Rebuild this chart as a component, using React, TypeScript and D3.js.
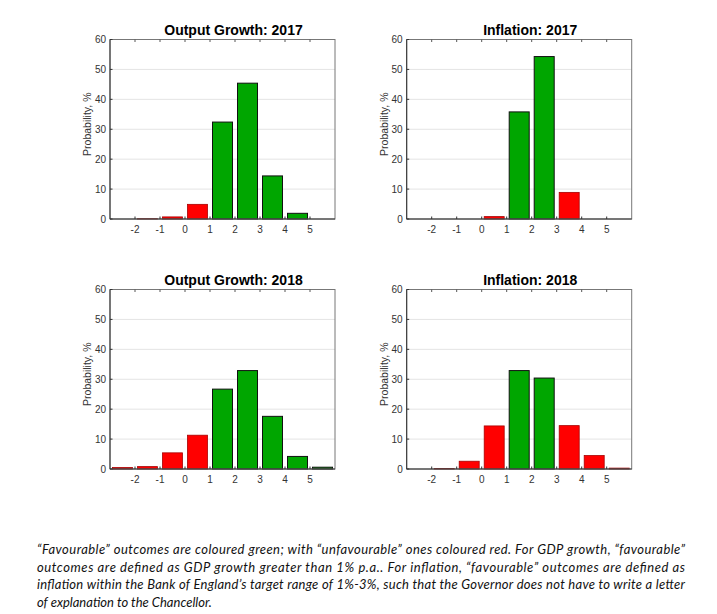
import React from "react";
import * as d3 from "d3";

const binStarts = [-3, -2, -1, 0, 1, 2, 3, 4, 5];
const xTicks = [-2, -1, 0, 1, 2, 3, 4, 5];
const yTicks = [0, 10, 20, 30, 40, 50, 60];
const gridTicks = [10, 20, 30, 40, 50];

const outputGrowth2017 = [0, 0.1, 0.7, 4.9, 32.4, 45.4, 14.4, 1.9, 0];
const inflation2017 = [0, 0, 0, 0.8, 35.8, 54.3, 8.9, 0, 0];
const outputGrowth2018 = [0.5, 0.8, 5.4, 11.3, 26.7, 32.9, 17.6, 4.2, 0.6];
const inflation2018 = [0, 0.2, 2.6, 14.4, 32.9, 30.4, 14.5, 4.5, 0.3];

const outputFavourable: [number, number] = [1, 100];
const inflationFavourable: [number, number] = [1, 3];

const captionLines = [
  "\u201cFavourable\u201d outcomes are coloured green; with \u201cunfavourable\u201d ones coloured red. For GDP growth, \u201cfavourable\u201d",
  "outcomes are defined as GDP growth greater than 1% p.a.. For inflation, \u201cfavourable\u201d outcomes are defined as",
  "inflation within the Bank of England\u2019s target range of 1%-3%, such that the Governor does not have to write a letter",
  "of explanation to the Chancellor.",
];

const GREEN = "#00a600";
const RED = "#ff0000";

type PanelProps = {
  title: string;
  values: number[];
  fav: [number, number];
  left: number;
  top: number;
};

const PW = 225;
const PH = 179.5;

function Panel({ title, values, fav, left, top }: PanelProps) {
  const x = d3.scaleLinear().domain([-3, 6]).range([left, left + PW]);
  const y = d3.scaleLinear().domain([0, 60]).range([top + PH, top]);
  const bw = (x(1) - x(0)) * 0.8;
  return (
    <g>
      {gridTicks.map((t) => (
        <line key={"g" + t} x1={left} x2={left + PW} y1={y(t)} y2={y(t)} stroke="#e4e4e4" strokeWidth={1} />
      ))}
      {values.map((v, i) => {
        const s = binStarts[i];
        const good = s >= fav[0] && s + 1 <= fav[1];
        const cx = x(s + 0.5);
        const h = Math.max(y(0) - y(v), 0);
        if (v <= 0) return null;
        return (
          <rect
            key={"b" + i}
            x={cx - bw / 2}
            y={y(v)}
            width={bw}
            height={h}
            fill={good ? GREEN : RED}
            stroke={good ? "#111" : "#a80000"}
            strokeWidth={good ? 1 : 0.8}
          />
        );
      })}
      <rect x={left} y={top} width={PW} height={PH} fill="none" stroke="#777" strokeWidth={1} />
      <line x1={left} x2={left} y1={top} y2={top + PH} stroke="#333" strokeWidth={1} />
      <line x1={left} x2={left + PW} y1={top + PH} y2={top + PH} stroke="#333" strokeWidth={1} />
      {xTicks.map((t) => (
        <g key={"x" + t}>
          <line x1={x(t)} x2={x(t)} y1={top + PH} y2={top + PH - 2.5} stroke="#333" />
          <line x1={x(t)} x2={x(t)} y1={top} y2={top + 2.5} stroke="#555" />
          <text x={x(t)} y={top + PH + 14} textAnchor="middle" fontSize={10} fill="#333" fontFamily="Liberation Sans, Arial, sans-serif">
            {t}
          </text>
        </g>
      ))}
      {yTicks.map((t) => (
        <g key={"y" + t}>
          <line x1={left} x2={left + 2.5} y1={y(t)} y2={y(t)} stroke="#333" />
          <text x={left - 4} y={y(t) + 3.5} textAnchor="end" fontSize={10} fill="#333" fontFamily="Liberation Sans, Arial, sans-serif">
            {t}
          </text>
        </g>
      ))}
      <text
        transform={`translate(${left - 19},${top + PH / 2 - 5}) rotate(-90)`}
        textAnchor="middle"
        fontSize={10.5}
        fill="#333"
        fontFamily="Liberation Sans, Arial, sans-serif"
      >
        Probability, %
      </text>
      <text
        x={left + PW / 2 + 11}
        y={top - 5}
        textAnchor="middle"
        fontSize={14}
        fontWeight="bold"
        fill="#000"
        fontFamily="Liberation Sans, Arial, sans-serif"
      >
        {title}
      </text>
    </g>
  );
}

export default function App() {
  return (
    <svg
      width={717}
      height={614}
      style={{ position: "absolute", left: 0, top: 0, background: "#fff" }}
    >
      <rect x={0} y={0} width={717} height={614} fill="#fff" />
      <Panel title="Output Growth: 2017" values={outputGrowth2017} fav={outputFavourable} left={110} top={39.5} />
      <Panel title="Inflation: 2017" values={inflation2017} fav={inflationFavourable} left={406.7} top={39.5} />
      <Panel title="Output Growth: 2018" values={outputGrowth2018} fav={outputFavourable} left={110} top={289.5} />
      <Panel title="Inflation: 2018" values={inflation2018} fav={inflationFavourable} left={406.7} top={289.5} />
      {captionLines.map((line, i) => (
        <text
          key={"c" + i}
          x={37}
          y={554 + i * 17.5}
          fontSize={13}
          fontStyle="italic"
          fill="#111"
          fontFamily="Lato, 'Open Sans', sans-serif"
          textLength={i < 3 ? 648 : undefined}
          lengthAdjust={i < 3 ? "spacing" : undefined}
        >
          {line}
        </text>
      ))}
    </svg>
  );
}
